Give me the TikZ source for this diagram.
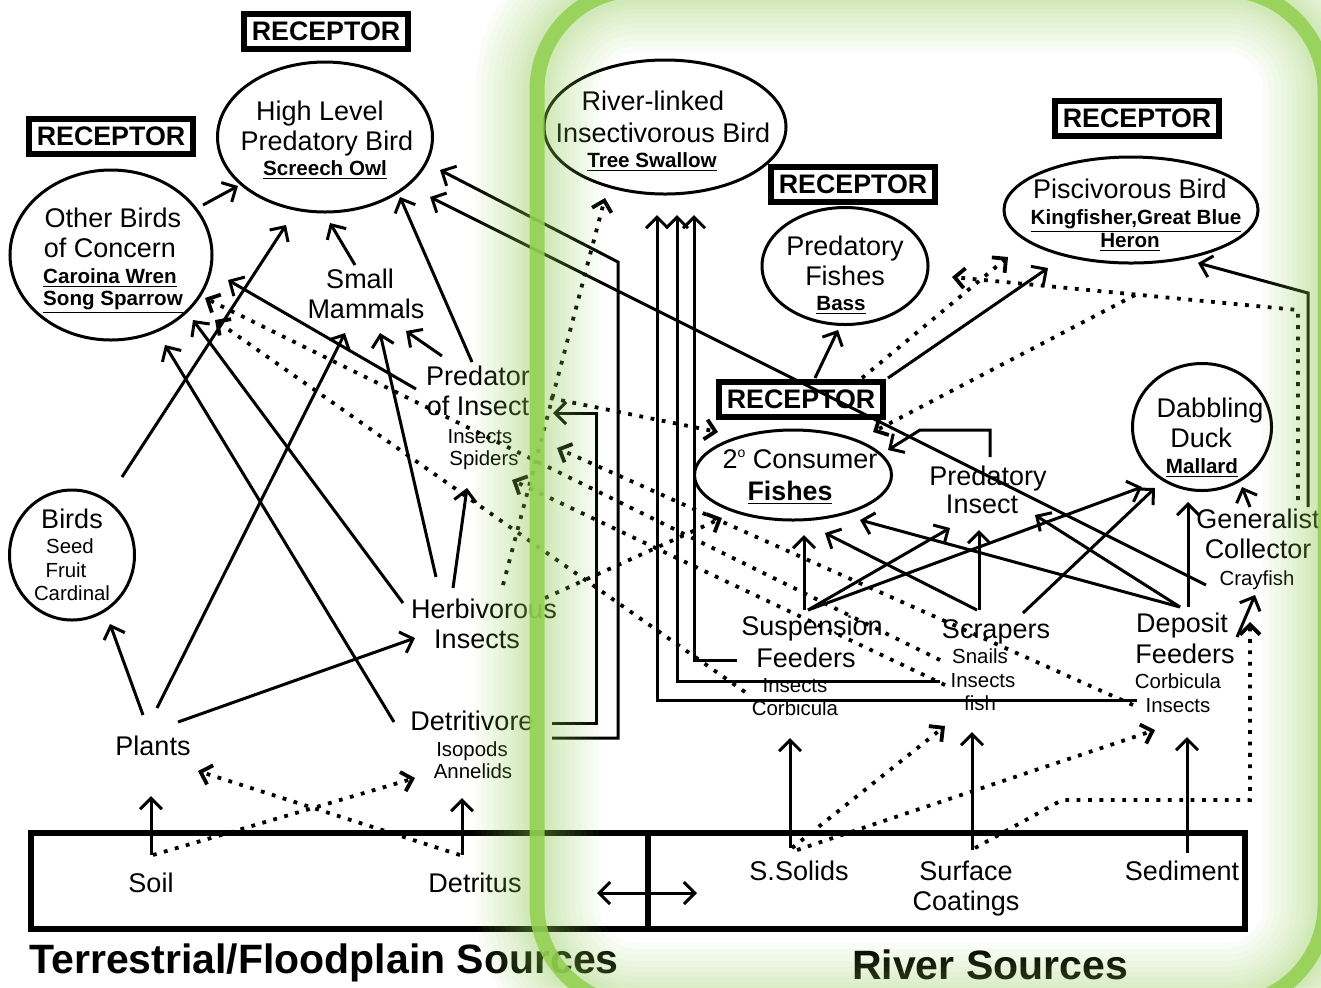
\documentclass[tikz,border=0pt]{standalone}
\usepackage{fontspec}
\setmainfont{Liberation Sans}
\usetikzlibrary{arrows.meta,shapes.geometric}
\definecolor{frameg}{RGB}{146,208,80}
\begin{document}
\begin{tikzpicture}[x=0.5pt,y=-0.5pt,
  big/.style={anchor=base, font=\fontsize{13.5}{15}\selectfont, inner sep=0pt},
  sub/.style={anchor=base, font=\fontsize{10.3}{12}\selectfont\bfseries, inner sep=0pt},
  small/.style={anchor=base, font=\fontsize{10.2}{12}\selectfont, inner sep=0pt},
  title/.style={anchor=base, font=\fontsize{20.5}{24}\selectfont\bfseries, inner sep=0pt},
  rec/.style={draw, line width=3pt, minimum width=82pt, minimum height=17.5pt, inner sep=0pt, font=\fontsize{13.4}{15}\selectfont\bfseries},
  oval/.style={draw, ellipse, line width=1.5pt, inner sep=0pt},
  arr/.style={line width=1.5pt, -{Straight Barb[length=5.5pt,width=11pt]}},
  arrtwo/.style={line width=1.5pt, {Straight Barb[length=5.5pt,width=11pt]}-{Straight Barb[length=5.5pt,width=11pt]}},
  dots/.style={line width=1.9pt, dash pattern=on 1.9pt off 3.8pt, -{Straight Barb[length=5pt,width=10pt]}},
  frame/.style={frameg, rounded corners=50pt}
]
\useasboundingbox (0,0) rectangle (1321,987);
\fill[white] (0,0) rectangle (1321,987);
\clip (0,0) rectangle (1321,987);

% ---------- receptor boxes ----------
\node[rec] (recA) at (326,31) {RECEPTOR};
\node[rec] (recB) at (111,136) {RECEPTOR};
\node[rec] (recC) at (853,184) {RECEPTOR};
\node[rec] (recD) at (1137,118) {RECEPTOR};
\node[rec] (recE) at (801,399) {RECEPTOR};

% ---------- ellipses ----------
\node[oval, minimum width=107.5pt, minimum height=75pt] (hl) at (325,137) {};
\node[oval, minimum width=101pt, minimum height=85pt] (ob) at (111,255) {};
\node[oval, minimum width=62.5pt, minimum height=65pt] (bd) at (72,555) {};
\node[oval, minimum width=121pt, minimum height=67pt] (rl) at (665,127) {};
\node[oval, minimum width=83pt, minimum height=58.5pt] (pf) at (845,266) {};
\node[oval, minimum width=127pt, minimum height=53pt] (pb) at (1131,210) {};
\node[oval, minimum width=98.5pt, minimum height=45pt] (cf) at (793,475) {};
\node[oval, minimum width=69.5pt, minimum height=63.5pt] (dd) at (1202,427) {};

% ---------- sources box ----------
\node[draw, line width=3pt, minimum width=607pt, minimum height=48pt, inner sep=0pt] (srcbox) at (638,881) {};
\coordinate (divtop) at (648,830);
\coordinate (divbot) at (648,932);
\draw[line width=3pt] (divtop) -- (divbot);

% ---------- texts ----------
\node[big] (hl1) at (320,120) {High Level};
\node[big] (hl2) at (327,150) {Predatory Bird};
\node[sub] (hl3) at (325,175) {\underline{Screech Owl}};
\node[big] (ob1) at (113,227) {Other Birds};
\node[big] (ob2) at (110,257) {of Concern};
\node[sub] (ob3) at (110,283) {\underline{Caroina Wren}};
\node[sub] (ob4) at (113,305) {\underline{Song Sparrow}};
\node[big] (sm1) at (360,288) {Small};
\node[big] (sm2) at (366,318) {Mammals};
\node[big] (pi1) at (478,385) {Predator};
\node[big] (pi2) at (478,415) {of Insect};
\node[small] (pi3) at (480,443) {Insects};
\node[small] (pi4) at (484,465) {Spiders};
\node[big] (bd1) at (72,528) {Birds};
\node[small] (bd2) at (70,553) {Seed};
\node[small] (bd3) at (66,577) {Fruit};
\node[small] (bd4) at (72,600) {Cardinal};
\node[big] (hi1) at (484,618) {Herbivorous};
\node[big] (hi2) at (477,648) {Insects};
\node[big] (pl) at (153,755) {Plants};
\node[big] (dv1) at (472,730) {Detritivore};
\node[small] (dv2) at (472,756) {Isopods};
\node[small] (dv3) at (473,778) {Annelids};
\node[big] (soil) at (151,892) {Soil};
\node[big] (det) at (475,892) {Detritus};
\node[big] (rl1) at (653,110) {River-linked};
\node[big] (rl2) at (663,142) {Insectivorous Bird};
\node[sub] (rl3) at (652,167) {\underline{Tree Swallow}};
\node[big] (pf1) at (845,255) {Predatory};
\node[big] (pf2) at (845,285) {Fishes};
\node[sub] (pf3) at (841,310) {\underline{Bass}};
\node[big] (pb1) at (1130,198) {Piscivorous Bird};
\node[sub] (pb2) at (1136,224) {\underline{Kingfisher,Great Blue}};
\node[sub] (pb3) at (1130,247) {\underline{Heron}};
\node[big] (cf1) at (800,468) {2\raisebox{0.75ex}{\fontsize{7}{8}\selectfont o} Consumer};
\node[anchor=base, font=\fontsize{13.4}{15}\selectfont\bfseries, inner sep=0pt] (cf2) at (790,500) {\underline{Fishes}};
\node[big] (pin1) at (988,485) {Predatory};
\node[big] (pin2) at (982,513) {Insect};
\node[big] (dd1) at (1210,417) {Dabbling};
\node[big] (dd2) at (1201,447) {Duck};
\node[sub] (dd3) at (1202,473) {\underline{Mallard}};
\node[big] (gc1) at (1258,528) {Generalist};
\node[big] (gc2) at (1258,558) {Collector};
\node[small] (gc3) at (1257,585) {Crayfish};
\node[big] (sf1) at (812,635) {Suspension};
\node[big] (sf2) at (806,667) {Feeders};
\node[small] (sf3) at (795,692) {Insects};
\node[small] (sf4) at (795,715) {Corbicula};
\node[big] (sc1) at (996,638) {Scrapers};
\node[small] (sc2) at (980,663) {Snails};
\node[small] (sc3) at (983,687) {Insects};
\node[small] (sc4) at (980,710) {fish};
\node[big] (df1) at (1182,632) {Deposit};
\node[big] (df2) at (1185,663) {Feeders};
\node[small] (df3) at (1178,688) {Corbicula};
\node[small] (df4) at (1178,712) {Insects};
\node[big] (ss) at (799,880) {S.Solids};
\node[big] (sfc1) at (966,880) {Surface};
\node[big] (sfc2) at (966,910) {Coatings};
\node[big] (sed) at (1182,880) {Sediment};
\node[title] (terr) at (324,973) {Terrestrial/Floodplain Sources};
\node[title] (riv) at (990,979) {River Sources};

% ---------- connector end points ----------
\coordinate (ob-a) at (203,205);  \coordinate (hl-sw) at (238,186);
\coordinate (bd-top) at (122,477); \coordinate (hl-s1) at (286,225);
\coordinate (sm-top) at (355,265); \coordinate (hl-s2) at (330,223);
\coordinate (pi-top) at (472,362); \coordinate (hl-se) at (400,197);
\coordinate (hi-t1) at (436,577); \coordinate (sm-b1) at (380,333);
\coordinate (pl-t1) at (157,708); \coordinate (sm-b2) at (345,333);
\coordinate (pl-t2) at (143,715); \coordinate (bd-b) at (110,624);
\coordinate (pl-e) at (178,722);  \coordinate (hi-w) at (415,638);
\coordinate (dv-nw) at (394,722); \coordinate (ob-s1) at (165,345);
\coordinate (hi-nw) at (403,603); \coordinate (ob-s2) at (193,320);
\coordinate (hi-t2) at (453,588); \coordinate (pi-b) at (467,488);
\coordinate (pi-nw) at (442,356); \coordinate (sm-e) at (406,331);
\coordinate (pi-w) at (416,389);  \coordinate (ob-e) at (228,280);
\coordinate (gc-w) at (1206,585); \coordinate (hl-e1) at (430,197);
\coordinate (dv-e2) at (552,738); \coordinate (bend1) at (618,262); \coordinate (hl-e2) at (440,170);
\coordinate (dv-e1) at (552,723); \coordinate (bend2) at (596,413); \coordinate (pi-e) at (553,413);
\coordinate (df-w) at (1137,700); \coordinate (rl-b1) at (657,215);
\coordinate (sc-w) at (940,681);  \coordinate (rl-b2) at (677,215);
\coordinate (sf-w) at (737,660);  \coordinate (rl-b3) at (694,215);
\coordinate (recE-n1) at (815,378); \coordinate (pf-s) at (838,330);
\coordinate (recE-ne) at (888,378); \coordinate (pb-sw) at (1048,268);
\coordinate (gc-n2) at (1308,507); \coordinate (bend3) at (1308,293); \coordinate (pb-se) at (1198,263);
\coordinate (pin-n) at (990,457); \coordinate (bend4) at (920,430); \coordinate (cf-ne) at (888,450);
\coordinate (sf-n1) at (804,610); \coordinate (cf-s1) at (804,535);
\coordinate (sf-n2) at (808,610); \coordinate (pin-sw) at (950,528); \coordinate (dd-sw) at (1142,487);
\coordinate (sc-n1) at (977,610); \coordinate (cf-s2) at (825,533);
\coordinate (sc-n2) at (979,610); \coordinate (pin-s) at (979,530);
\coordinate (sc-ne) at (1023,613); \coordinate (dd-s1) at (1155,488);
\coordinate (df-n) at (1180,607); \coordinate (cf-se) at (860,520); \coordinate (pin-se) at (1035,515);
\coordinate (df-n2) at (1188,607); \coordinate (dd-s2) at (1188,502);
\coordinate (gc-n1) at (1250,507); \coordinate (dd-se) at (1242,487);
\coordinate (df-ne) at (1237,637); \coordinate (gc-s) at (1255,595);
\coordinate (ss-n) at (790,848); \coordinate (sf-s) at (790,738);
\coordinate (sfc-n) at (972,850); \coordinate (sc-s) at (972,732);
\coordinate (sed-n) at (1187,853); \coordinate (df-s) at (1187,737);
\coordinate (soil-n) at (151,855); \coordinate (pl-s) at (151,796);
\coordinate (det-n) at (462,855); \coordinate (dv-s) at (462,798);
\coordinate (x-l) at (597,893); \coordinate (x-r) at (697,893);
% dotted ends
\coordinate (soil-n2) at (153,855); \coordinate (dv-sw) at (415,778);
\coordinate (det-n2) at (460,855); \coordinate (pl-se) at (198,771);
\coordinate (hi-ne) at (503,585); \coordinate (rl-sw) at (605,198);
\coordinate (pi-e2) at (550,398); \coordinate (cf-w1) at (718,432);
\coordinate (hi-e) at (545,598); \coordinate (cf-w2) at (722,518);
\coordinate (sfi) at (745,692); \coordinate (ob-e2) at (215,320);
\coordinate (scs) at (940,660); \coordinate (ob-e3) at (205,298);
\coordinate (dfi) at (1133,705); \coordinate (pi-se) at (557,448);
\coordinate (sci) at (945,685); \coordinate (pi-s) at (512,480);
\coordinate (ss-n2) at (792,848); \coordinate (sc-sw) at (945,726);
\coordinate (ss-n3) at (797,850); \coordinate (df-sw) at (1155,730);
\coordinate (sfc-n2) at (975,848); \coordinate (bend5) at (1062,800); \coordinate (bend6) at (1250,800); \coordinate (gc-s2) at (1250,622);
\coordinate (recE-n2) at (862,378); \coordinate (pb-sw2) at (1008,257);
\coordinate (gc-ne) at (1298,500); \coordinate (bend7) at (1298,310); \coordinate (pf-e) at (952,277);
\coordinate (junc) at (1135,295); \coordinate (cf-ne2) at (873,432);

% ---------- solid connectors ----------
\draw[arr] (ob-a) -- (hl-sw);
\draw[arr] (bd-top) -- (hl-s1);
\draw[arr] (sm-top) -- (hl-s2);
\draw[arr] (pi-top) -- (hl-se);
\draw[arr] (hi-t1) -- (sm-b1);
\draw[arr] (pl-t1) -- (sm-b2);
\draw[arr] (pl-t2) -- (bd-b);
\draw[arr] (pl-e) -- (hi-w);
\draw[arr] (dv-nw) -- (ob-s1);
\draw[arr] (hi-nw) -- (ob-s2);
\draw[arr] (hi-t2) -- (pi-b);
\draw[arr] (pi-nw) -- (sm-e);
\draw[arr] (pi-w) -- (ob-e);
\draw[arr] (gc-w) -- (hl-e1);
\draw[arr] (dv-e2) -| (bend1) -- (hl-e2);
\draw[arr] (dv-e1) -| (bend2) -- (pi-e);
\draw[arr] (df-w) -| (rl-b1);
\draw[arr] (sc-w) -| (rl-b2);
\draw[arr] (sf-w) -| (rl-b3);
\draw[arr] (recE-n1) -- (pf-s);
\draw[arr] (recE-ne) -- (pb-sw);
\draw[arr] (gc-n2) -- (bend3) -- (pb-se);
\draw[arr] (pin-n) |- (bend4) -- (cf-ne);
\draw[arr] (sf-n1) -- (cf-s1);
\draw[arr] (sf-n2) -- (pin-sw);
\draw[arr] (sf-n2) -- (dd-sw);
\draw[arr] (sc-n1) -- (cf-s2);
\draw[arr] (sc-n2) -- (pin-s);
\draw[arr] (sc-ne) -- (dd-s1);
\draw[arr] (df-n) -- (cf-se);
\draw[arr] (df-n) -- (pin-se);
\draw[arr] (df-n2) -- (dd-s2);
\draw[arr] (gc-n1) -- (dd-se);
\draw[arr] (df-ne) -- (gc-s);
\draw[arr] (ss-n) -- (sf-s);
\draw[arr] (sfc-n) -- (sc-s);
\draw[arr] (sed-n) -- (df-s);
\draw[arr] (soil-n) -- (pl-s);
\draw[arr] (det-n) -- (dv-s);
\draw[arrtwo] (x-l) -- (x-r);

% ---------- dotted connectors ----------
\draw[dots] (soil-n2) -- (dv-sw);
\draw[dots] (det-n2) -- (pl-se);
\draw[dots] (hi-ne) -- (rl-sw);
\draw[dots] (pi-e2) -- (cf-w1);
\draw[dots] (hi-e) -- (cf-w2);
\draw[dots] (sfi) -- (ob-e2);
\draw[dots] (scs) -- (ob-e3);
\draw[dots] (dfi) -- (pi-se);
\draw[dots] (sci) -- (pi-s);
\draw[dots] (ss-n2) -- (sc-sw);
\draw[dots] (ss-n3) -- (df-sw);
\draw[dots] (sfc-n2) -- (bend5) -- (bend6) -- (gc-s2);
\draw[dots] (recE-n2) -- (pb-sw2);
\draw[dots] (gc-ne) -- (bend7) -- (pf-e);
\draw[dots] (junc) -- (cf-ne2);

% ---------- green frame with soft glow ----------
\coordinate (fr-a) at (537,-10);
\coordinate (fr-b) at (1325,1005);
\foreach \w in {62,56,50,44,38,33,28,23,19,15,12}
  \draw[frame, line width=\w pt, opacity=0.045] (fr-a) rectangle (fr-b);
\draw[frame, line width=7.5pt, opacity=0.88] (fr-a) rectangle (fr-b);
\end{tikzpicture}
\end{document}
